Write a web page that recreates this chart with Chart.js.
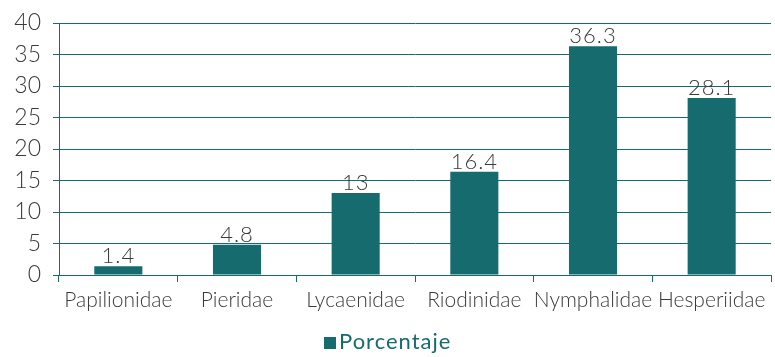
<!DOCTYPE html>
<html>
<head>
<meta charset="utf-8">
<script src="https://cdn.jsdelivr.net/npm/chart.js@4"></script>
<style>
  html, body { margin: 0; padding: 0; background: #fff; }
  #wrap { width: 775px; height: 357px; }
</style>
</head>
<body>
<div id="wrap"><canvas id="chart"></canvas></div>
<script>
// Familias y porcentajes
const familias = ['Papilionidae', 'Pieridae', 'Lycaenidae', 'Riodinidae', 'Nymphalidae', 'Hesperiidae'];
const porcentaje = [1.4, 4.8, 13, 16.4, 36.3, 28.1];
const yTicks = [0, 5, 10, 15, 20, 25, 30, 35, 40];
const serieNombre = 'Porcentaje';

const TEAL = '#156b6e';
const TEXT = '#3a3a3a';

// Etiquetas de valor encima de cada barra
const valueLabels = {
    id: 'valueLabels',
    afterDatasetsDraw(chart) {
        const ctx = chart.ctx;
        const meta = chart.getDatasetMeta(0);
        ctx.save();
        ctx.font = '300 22px Lato';
        ctx.letterSpacing = '1px';
        ctx.fillStyle = TEXT;
        ctx.textAlign = 'center';
        ctx.textBaseline = 'alphabetic';
        meta.data.forEach((bar, i) => {
            ctx.fillText(String(porcentaje[i]), bar.x, bar.y - 3);
        });
        ctx.restore();
    }
};

// Leyenda compacta: cuadro pegado al texto
const legendaInferior = {
    id: 'legendaInferior',
    afterDraw(chart) {
        const ctx = chart.ctx;
        ctx.save();
        ctx.font = '400 22px Lato';
        ctx.letterSpacing = '1px';
        const w = ctx.measureText(serieNombre).width;
        const box = 12, gap = 3;
        const total = box + gap + w;
        const x0 = Math.round(chart.width / 2 - total / 2);
        const y = 349;
        ctx.fillStyle = chart.data.datasets[0].backgroundColor;
        ctx.fillRect(x0, y - box, box, box);
        ctx.fillStyle = TEAL;
        ctx.textBaseline = 'alphabetic';
        ctx.fillText(serieNombre, x0 + box + gap, y);
        ctx.restore();
    }
};

new Chart(document.getElementById('chart'), {
    type: 'bar',
    data: {
        labels: familias,
        datasets: [{
            label: serieNombre,
            data: porcentaje,
            backgroundColor: TEAL,
            categoryPercentage: 1,
            barPercentage: 0.405
        }]
    },
    options: {
        responsive: true,
        maintainAspectRatio: false,
        animation: false,
        layout: { padding: { top: 23, right: 4, left: 0, bottom: 40 } },
        plugins: {
            legend: { display: false },
            tooltip: { enabled: false }
        },
        scales: {
            x: {
                afterFit(scale) { scale.height = 42; },
                grid: {
                    offset: true,
                    drawOnChartArea: false,
                    drawTicks: true,
                    tickLength: 7,
                    color: TEAL
                },
                border: { color: TEAL, width: 1 },
                ticks: {
                    color: TEXT,
                    padding: 6,
                    autoSkip: false,
                    maxRotation: 0,
                    minRotation: 0,
                    font: { family: 'Lato', size: 21, weight: 300 }
                }
            },
            y: {
                min: 0,
                max: 40,
                afterBuildTicks(scale) {
                    scale.ticks = yTicks.map(v => ({ value: v }));
                },
                afterFit(scale) {
                    scale.width = 59;
                    scale.paddingTop = 0;
                    scale.paddingBottom = 0;
                },
                grid: {
                    color: TEAL,
                    tickLength: 6,
                    lineWidth: 1
                },
                border: { color: TEAL, width: 1 },
                ticks: {
                    color: TEXT,
                    padding: 12,
                    font: { family: 'Lato', size: 23, weight: 300 }
                }
            }
        }
    },
    plugins: [valueLabels, legendaInferior]
});
</script>
</body>
</html>
